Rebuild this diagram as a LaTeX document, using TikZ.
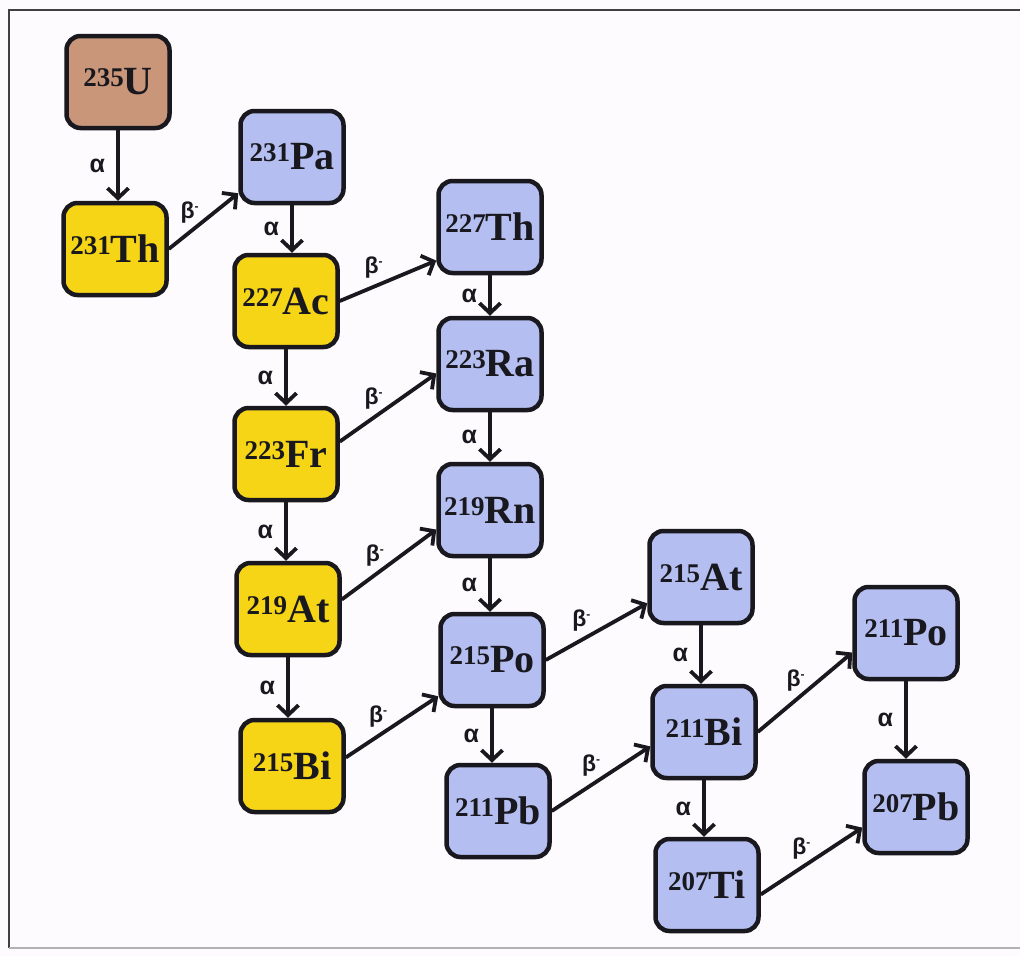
\documentclass[tikz,border=0pt]{standalone}
\usepackage{fontspec}
\setmainfont{Liberation Serif}
\newfontfamily\lblfont{Liberation Sans}
\usetikzlibrary{arrows.meta}

\definecolor{uranium}{RGB}{201,150,122}
\definecolor{goldnuc}{RGB}{246,212,22}
\definecolor{lavnuc}{RGB}{181,190,240}
\definecolor{ink}{RGB}{24,24,30}
\definecolor{paper}{RGB}{253,251,253}

% mass number as a raised prefix, then the element symbol
\newcommand\isotope[2]{\raisebox{8pt}{\fontsize{27}{27}\selectfont\bfseries #1}{\fontsize{40}{40}\selectfont\bfseries #2}}
\newcommand\alphalbl{{\lblfont\bfseries\fontsize{25}{25}\selectfont α}}
\newcommand\betalbl{{\lblfont\bfseries\fontsize{23}{23}\selectfont β\raisebox{8pt}{\fontsize{12}{12}\selectfont -}}}

\tikzset{
  nuc/.style={draw=ink, line width=4.5pt, rounded corners=14pt,
    minimum width=103pt, minimum height=92pt, inner sep=0pt, text=ink},
  parentnuc/.style={nuc, fill=uranium},
  goldbox/.style={nuc, fill=goldnuc},
  lavbox/.style={nuc, fill=lavnuc},
  decay/.style={draw=ink, line width=3.8pt,
    -{Straight Barb[length=10pt,width=21pt]}},
  alab/.style={left=11pt, inner sep=0pt, text=ink},
  blab/.style={above=7pt, inner sep=0pt, text=ink},
}

\begin{document}
\begin{tikzpicture}[x=1pt,y=-1pt]
\useasboundingbox (0,0) rectangle (1020,956);
\fill[paper] (0,0) rectangle (1020,956);
\draw[line width=2pt, draw=black!75] (1020,10) -- (9,10) -- (9,948);
\draw[line width=1.5pt, draw=black!30] (9,948) -- (1020,948);

% nuclides
\node[parentnuc] (u235)  at (118,82)  {\isotope{235}{U}};
\node[goldbox]   (th231) at (115,249) {\isotope{231}{Th}};
\node[lavbox]    (pa231) at (292,157) {\isotope{231}{Pa}};
\node[goldbox]   (ac227) at (286,301) {\isotope{227}{Ac}};
\node[goldbox]   (fr223) at (286,454) {\isotope{223}{Fr}};
\node[goldbox]   (at219) at (288,609) {\isotope{219}{At}};
\node[goldbox]   (bi215) at (292,766) {\isotope{215}{Bi}};
\node[lavbox]    (th227) at (490,227) {\isotope{227}{Th}};
\node[lavbox]    (ra223) at (490,364) {\isotope{223}{Ra}};
\node[lavbox]    (rn219) at (490,510) {\isotope{219}{Rn}};
\node[lavbox]    (po215) at (492,660) {\isotope{215}{Po}};
\node[lavbox]    (pb211) at (498,811) {\isotope{211}{Pb}};
\node[lavbox]    (at215) at (701,577) {\isotope{215}{At}};
\node[lavbox]    (bi211) at (704,732) {\isotope{211}{Bi}};
\node[lavbox]    (ti207) at (707,885) {\isotope{207}{Ti}};
\node[lavbox]    (po211) at (906,633) {\isotope{211}{Po}};
\node[lavbox]    (pb207) at (916,807) {\isotope{207}{Pb}};

% alpha decays
\draw[decay] (u235.south) -- node[alab] {\alphalbl} (u235.south |- th231.north);
\draw[decay] (pa231.south) -- node[alab] {\alphalbl} (pa231.south |- ac227.north);
\draw[decay] (ac227.south) -- node[alab] {\alphalbl} (ac227.south |- fr223.north);
\draw[decay] (fr223.south) -- node[alab] {\alphalbl} (fr223.south |- at219.north);
\draw[decay] (at219.south) -- node[alab] {\alphalbl} (at219.south |- bi215.north);
\draw[decay] (th227.south) -- node[alab] {\alphalbl} (th227.south |- ra223.north);
\draw[decay] (ra223.south) -- node[alab] {\alphalbl} (ra223.south |- rn219.north);
\draw[decay] (rn219.south) -- node[alab] {\alphalbl} (rn219.south |- po215.north);
\draw[decay] (po215.south) -- node[alab] {\alphalbl} (po215.south |- pb211.north);
\draw[decay] (at215.south) -- node[alab] {\alphalbl} (at215.south |- bi211.north);
\draw[decay] (bi211.south) -- node[alab] {\alphalbl} (bi211.south |- ti207.north);
\draw[decay] (po211.south) -- node[alab] {\alphalbl} (po211.south |- pb207.north);

% beta-minus decays
\draw[decay] (th231.east) -- node[blab, pos=0.3] {\betalbl} (pa231.214);
\draw[decay] (ac227.east) -- node[blab, pos=0.35] {\betalbl} (th227.212);
\draw[decay] (fr223.13)   -- node[blab, pos=0.35] {\betalbl} (ra223.190);
\draw[decay] (at219.10)   -- node[blab, pos=0.35] {\betalbl} (rn219.200);
\draw[decay] (bi215.9)    -- node[blab, pos=0.35] {\betalbl} (po215.214);
\draw[decay] (po215.east) -- node[blab, pos=0.35] {\betalbl} (at215.206);
\draw[decay] (pb211.east) -- node[blab, pos=0.4] {\betalbl} (bi211.195);
\draw[decay] (bi211.east) -- node[blab, pos=0.4] {\betalbl} (po211.200);
\draw[decay] (ti207.350)  -- node[blab, pos=0.4] {\betalbl} (pb207.201);
\end{tikzpicture}
\end{document}
